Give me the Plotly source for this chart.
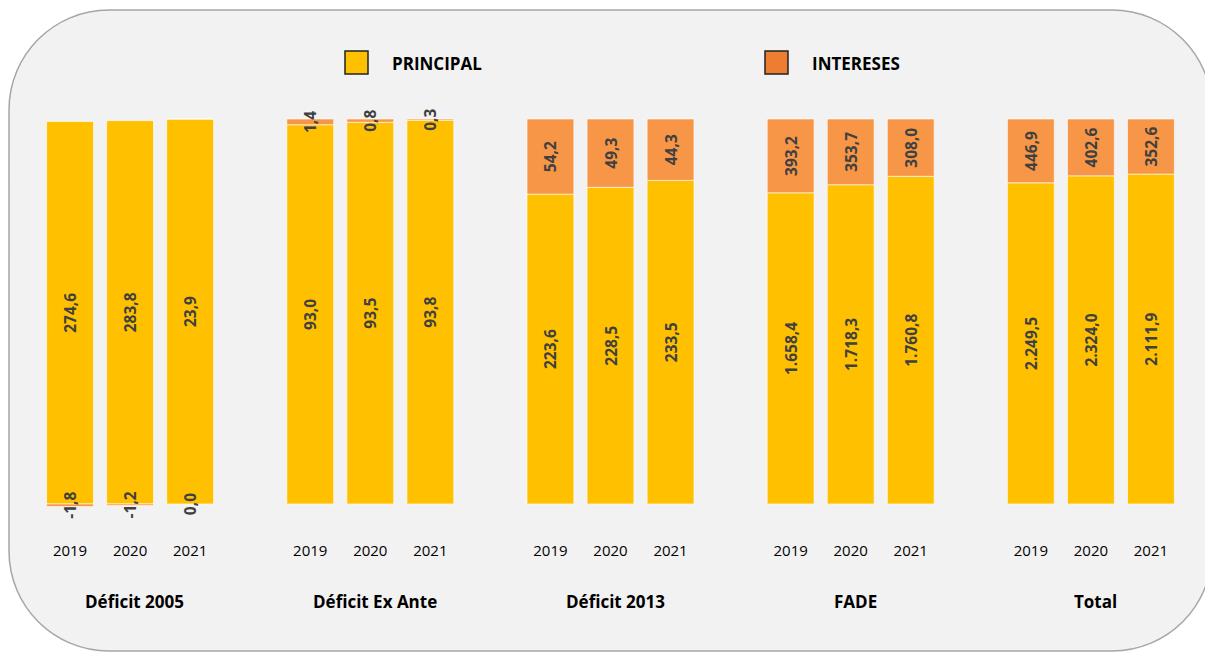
import plotly.graph_objects as go

grupos = ["Déficit 2005", "Déficit Ex Ante", "Déficit 2013", "FADE", "Total"]
anios = ["2019", "2020", "2021"]

principal = [
    [274.6, 283.8, 23.9],
    [93.0, 93.5, 93.8],
    [223.6, 228.5, 233.5],
    [1658.4, 1718.3, 1760.8],
    [2249.5, 2324.0, 2111.9],
]
intereses = [
    [-1.8, -1.2, 0.0],
    [1.4, 0.8, 0.3],
    [54.2, 49.3, 44.3],
    [393.2, 353.7, 308.0],
    [446.9, 402.6, 352.6],
]

AMARILLO = "#FFC000"
NARANJA = "#F79646"
NARANJA_LEY = "#ED7D31"
TEXTO = "#404040"
FUENTE = "Open Sans"


def fmt_es(v):
    # 1658.4 -> "1.658,4"
    s = f"{v:,.1f}"
    return s.replace(",", "X").replace(".", ",").replace("X", ".")


# excel-style 100% stack: share over the sum of absolute values
xs, p_pct, i_pct, p_txt, i_txt = [], [], [], [], []
for g in range(len(grupos)):
    for j in range(len(anios)):
        p = principal[g][j]
        i = intereses[g][j]
        tot = abs(p) + abs(i)
        xs.append(4 * g + j)
        p_pct.append(p / tot * 100)
        i_pct.append(i / tot * 100)
        p_txt.append(fmt_es(p))
        i_txt.append(fmt_es(i))

fuente_barras = dict(family=FUENTE, size=15.5, color=TEXTO, weight="bold")
comun = dict(
    x=xs, width=0.78, textposition="inside", insidetextanchor="middle",
    textangle=-90, constraintext="none", cliponaxis=False,
    textfont=fuente_barras, showlegend=False, hoverinfo="skip",
)

fig = go.Figure()
fig.add_trace(go.Bar(y=p_pct, text=p_txt, name="PRINCIPAL",
                     marker=dict(color=AMARILLO, line=dict(color="rgba(255,255,255,0.6)", width=1)),
                     **comun))
fig.add_trace(go.Bar(y=i_pct, text=i_txt, name="INTERESES",
                     marker=dict(color=NARANJA, line=dict(color="rgba(255,255,255,0.6)", width=1)),
                     **comun))

# plotly skips text on zero-height bars, so label those at the base
for x, v, t in zip(xs, i_pct, i_txt):
    if v == 0:
        fig.add_annotation(x=x, y=0, text=f"<b>{t}</b>", textangle=-90,
                           showarrow=False, xanchor="center", yanchor="middle",
                           font=fuente_barras)

# page is offset by the body margin; geometry below is in page pixels
OFF = 8
W_FIG, H_FIG = 1213 - OFF, 652 - OFF
L, T, W, H = 10 - OFF, 111 - OFF, 1201, 412


def px(x):
    return (x - OFF - L) / W


def py(y):
    return (T + H - (y - OFF)) / H


def marco(x0, y0, x1, y1, r):
    k = 0.5523 * r
    pts = [
        f"M {px(x0 + r)},{py(y0)}",
        f"L {px(x1 - r)},{py(y0)}",
        f"C {px(x1 - r + k)},{py(y0)} {px(x1)},{py(y0 + r - k)} {px(x1)},{py(y0 + r)}",
        f"L {px(x1)},{py(y1 - r)}",
        f"C {px(x1)},{py(y1 - r + k)} {px(x1 - r + k)},{py(y1)} {px(x1 - r)},{py(y1)}",
        f"L {px(x0 + r)},{py(y1)}",
        f"C {px(x0 + r - k)},{py(y1)} {px(x0)},{py(y1 - r + k)} {px(x0)},{py(y1 - r)}",
        f"L {px(x0)},{py(y0 + r)}",
        f"C {px(x0)},{py(y0 + r - k)} {px(x0 + r - k)},{py(y0)} {px(x0 + r)},{py(y0)}",
        "Z",
    ]
    return " ".join(pts)


fig.add_shape(type="path", xref="paper", yref="paper", layer="below",
              path=marco(9, 10, 1212, 651, 100),
              fillcolor="#F2F2F2", line=dict(color="#A6A6A6", width=1.5))

# legend drawn by hand: square + bold label
for nombre, color, x0 in [("PRINCIPAL", AMARILLO, 345), ("INTERESES", NARANJA_LEY, 765)]:
    fig.add_shape(type="rect", xref="paper", yref="paper",
                  x0=px(x0), x1=px(x0 + 23), y0=py(74), y1=py(51),
                  fillcolor=color, line=dict(color="#222222", width=1.5))
    fig.add_annotation(xref="paper", yref="paper", x=px(x0 + 45), y=py(63),
                       text=f"<b>{nombre}</b>", showarrow=False,
                       xanchor="left", yanchor="middle",
                       font=dict(family=FUENTE, size=17, color="#000000"))

for g, nombre in enumerate(grupos):
    fig.add_annotation(xref="x", yref="paper", x=4 * g + 1.08, y=py(601),
                       text=f"<b>{nombre}</b>", showarrow=False,
                       xanchor="center", yanchor="middle",
                       font=dict(family=FUENTE, size=17, color="#000000"))

fig.update_layout(
    width=W_FIG, height=H_FIG,
    margin=dict(l=L, r=W_FIG - L - W, t=T, b=H_FIG - T - H),
    paper_bgcolor="white", plot_bgcolor="rgba(0,0,0,0)",
    barmode="relative", showlegend=False,
    font=dict(family=FUENTE),
    xaxis=dict(range=[-1, 19], tickmode="array", tickvals=xs,
               ticktext=anios * len(grupos), showgrid=False, zeroline=False,
               showline=False, ticks="", ticklabelstandoff=17,
               tickfont=dict(family=FUENTE, size=15, color="#000000")),
    yaxis=dict(range=[-4.94, 102.08], visible=False, showgrid=False, zeroline=False),
)

fig.write_html("out.html")
